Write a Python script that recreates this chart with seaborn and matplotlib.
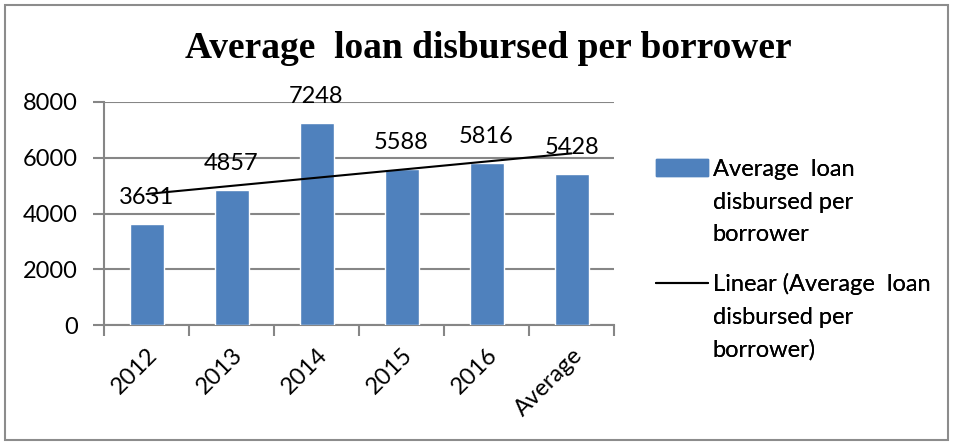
import matplotlib
matplotlib.use("Agg")
import matplotlib.pyplot as plt
import seaborn as sns
import numpy as np
import pandas as pd
from matplotlib.patches import Patch, Rectangle
from matplotlib.lines import Line2D

categories = ["2012", "2013", "2014", "2015", "2016", "Average"]
values = [3631, 4857, 7248, 5588, 5816, 5428]
yticks = [0, 2000, 4000, 6000, 8000]
title = "Average  loan disbursed per borrower"
series_lines = ["Average  loan", "disbursed per", "borrower"]
trend_lines = ["Linear (Average  loan", "disbursed per", "borrower)"]

sns.set_theme(style="white")
plt.rcParams["font.family"] = ["Lato", "DejaVu Sans"]
plt.rcParams["text.color"] = "black"
plt.rcParams["xtick.color"] = "black"
plt.rcParams["ytick.color"] = "black"

BAR = "#4F81BD"
GRID = "#868686"
FS = 17

df = pd.DataFrame({"cat": categories, "val": values})

fig = plt.figure(figsize=(9.57, 4.45), dpi=100)
ax = fig.add_axes([104 / 957, 1 - 325 / 445, 510 / 957, 223 / 445])

sns.barplot(data=df, x="cat", y="val", color=BAR, width=0.4, saturation=1,
            ax=ax, zorder=3)
xpos = np.arange(len(categories))
sns.regplot(x=xpos, y=np.array(values, dtype=float), scatter=False, ci=None,
            truncate=True, ax=ax, color="black",
            line_kws={"linewidth": 1.5, "zorder": 4})

ax.set_xlim(-0.5, len(categories) - 0.5)
ax.set_ylim(0, 8000)
ax.set_yticks(yticks)
ax.set_yticklabels([str(v) for v in yticks], fontsize=FS)
ax.yaxis.grid(True, color=GRID, linewidth=1.5, zorder=0)
ax.set_axisbelow(True)
ax.set_xlabel("")
ax.set_ylabel("")

ax.set_xticks(xpos)
ax.set_xticklabels(categories, fontsize=FS, rotation=45, ha="right",
                   va="top", rotation_mode="anchor")
ax.set_xticks(np.arange(-0.5, len(categories)), minor=True)
ax.tick_params(axis="x", which="major", length=0, pad=14)
ax.tick_params(axis="x", which="minor", length=8, width=1.5, color=GRID,
               direction="out", bottom=True)
ax.tick_params(axis="y", which="major", length=8, width=1.5, color=GRID,
               direction="out", left=True, pad=11)

for s in ["top", "right"]:
    ax.spines[s].set_visible(False)
for s in ["left", "bottom"]:
    ax.spines[s].set_visible(True)
    ax.spines[s].set_color(GRID)
    ax.spines[s].set_linewidth(1.5)

for p, v in zip(ax.patches, values):
    ax.annotate(str(v), (p.get_x() + p.get_width() / 2, p.get_height()),
                xytext=(0, 19), textcoords="offset points",
                ha="center", va="center", fontsize=FS, color="black",
                zorder=5)

fig.text(0.51, 1 - 48 / 445, title, ha="center", va="center",
         fontsize=27, fontweight="bold", family="Liberation Serif",
         color="black")

blank = Patch(facecolor="none", edgecolor="none")
legend_specs = [
    (Patch(facecolor=BAR, edgecolor=BAR), series_lines, 159),
    (Line2D([0], [0], color="black", linewidth=1.5), trend_lines, 273),
]
for handle, lines, ytop in legend_specs:
    leg = fig.legend([handle, blank, blank], lines,
                     loc="upper left",
                     bbox_to_anchor=(656 / 957, 1 - ytop / 445),
                     frameon=False, fontsize=FS, handlelength=2.2,
                     handletextpad=0.2, labelspacing=0.49, borderaxespad=0,
                     borderpad=0)
    fig.add_artist(leg)

fig.patches.append(Rectangle((5 / 957, 5 / 445), 943 / 957, 435 / 445,
                             transform=fig.transFigure, fill=False,
                             edgecolor="#8C8C8C", linewidth=1.5))

fig.savefig("out.png", dpi=100)
